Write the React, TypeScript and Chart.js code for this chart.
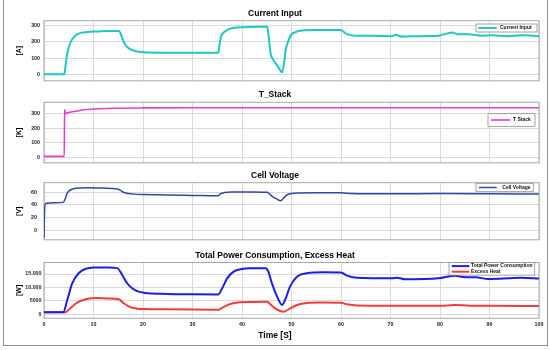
import React, { useEffect, useRef } from 'react';
import { Chart, registerables } from 'chart.js';

Chart.register(...registerables);

const FONT = '"Liberation Sans", Arial, Helvetica, sans-serif';
const GRID = '#dadada';
const FRAME = '#a8a8a8';

// ---- data (time [s], value) ----
const timeTicks = [0, 10, 20, 30, 40, 50, 60, 70, 80, 90, 100];

const currentInput: [number, number][] = [
  [0, 0], [4.1, 0], [4.3, 40], [4.6, 110], [5.0, 165], [5.4, 200], [6.0, 228], [6.8, 248], [8.1, 258],
  [10.1, 264], [12, 266], [15.2, 267], [15.6, 240], [16.0, 205], [16.6, 175], [17.2, 158], [18.2, 145],
  [20.2, 136], [25, 133], [30, 132], [35.2, 132], [35.5, 190], [35.8, 235], [36.5, 262], [37.5, 280],
  [38.5, 287], [40.4, 290], [43, 292], [45.1, 292], [45.4, 230], [45.8, 125], [46.3, 90], [46.8, 69],
  [47.5, 35], [48.1, 13], [48.5, 70], [48.8, 145], [49.3, 200], [49.8, 238], [50.8, 260], [52.2, 270],
  [55, 272], [59.9, 272], [61.2, 247], [62.9, 238], [66, 237], [70.3, 235], [71, 243], [72.3, 232],
  [76, 235], [79.7, 238], [82.4, 257], [83.7, 247], [85.8, 247], [88.4, 238], [90.5, 240], [93.8, 235],
  [96.5, 240], [100, 236],
];

const tStack: [number, number][] = [
  [0, 5], [4.1, 5], [4.15, 330], [4.35, 303], [5, 309], [6, 316], [6.8, 320], [8, 328], [10.1, 334],
  [14.8, 339], [20, 341], [30, 342], [100, 342],
];

const cellVoltage: [number, number][] = [
  [0, -12], [0.15, 38], [0.5, 42.5], [2, 43.5], [3.9, 44], [4.3, 50], [4.6, 57], [5.1, 62.5], [6, 65.5],
  [6.8, 66.5], [9, 67], [12, 66.5], [14.9, 65], [15.6, 62], [16.2, 59.5], [17, 58], [18.2, 57], [20, 56.5],
  [25, 55.5], [30, 55], [35.2, 54.5], [35.6, 57.5], [36.5, 59.5], [38.3, 60.3], [42, 60.5], [45.1, 60],
  [45.6, 57], [46.1, 53.5], [47, 49.5], [47.8, 46.5], [48.3, 50], [49.1, 56], [50.5, 58.5], [55, 59],
  [60, 59], [62, 58], [70, 57.5], [80, 57.8], [90, 57.5], [100, 57],
];

const totalPower: [number, number][] = [
  [0, 750], [3.9, 750], [4.7, 5300], [5.7, 11500], [7, 15300], [8.4, 16900], [10, 17400], [13, 17450],
  [14.8, 17200], [15.8, 14660], [16.8, 11560], [17.8, 9700], [19.1, 8430], [20.1, 8060], [24.9, 7570],
  [30, 7450], [35.2, 7400], [36, 9700], [37, 13400], [38.3, 15900], [40, 16900], [41.7, 17150],
  [44.8, 17200], [45.3, 16000], [46, 11800], [47.1, 6560], [48.1, 3500], [48.7, 5330], [49.7, 10300],
  [51.1, 14000], [53.1, 15300], [56.5, 15660], [60, 15600], [61.2, 14400], [63.2, 13650], [70.3, 13400],
  [71.3, 13650], [73, 13030], [79.7, 13400], [83, 14400], [85.1, 13800], [87.1, 13800], [89.8, 13150],
  [93.8, 13400], [96.5, 13650], [100, 13300],
];

const excessHeat: [number, number][] = [
  [0, 750], [4.3, 750], [5.3, 2240], [6.7, 4330], [8.4, 5600], [10.7, 6080], [13, 5900], [15.1, 5600],
  [16.1, 4100], [17.5, 2600], [18.8, 2100], [20.1, 2000], [25, 1850], [30, 1750], [35.2, 1700], [36, 2400],
  [37.6, 3840], [39.6, 4470], [42, 4600], [45, 4650], [46.4, 2600], [47.7, 1230], [48.4, 970], [49.4, 1860],
  [51.1, 3470], [53.1, 4200], [56, 4350], [60, 4300], [61.2, 3700], [63.2, 3250], [70, 3150], [80, 3150],
  [83, 3450], [86, 3200], [90, 3150], [100, 3100],
];

const currentTicks = [0, 100, 200, 300];
const stackTicks = [0, 100, 200, 300];
const voltageTicks = [0, 20, 40, 60];
const powerTicks = [0, 5000, 10000, 15000];
const powerTickLabels = ['0', '5000', '10,000', '15,000'];

// ---- panel layout ----
type Series = { label: string; points: [number, number][]; color: string; width: number };
type LegendSpec = {
  right: number; top: number; width: number; height: number; rows: number[];
  lineFrom: number; lineTo: number; textX: number;
};
type Panel = {
  key: string; title: string; yTitle: string; top: number; height: number;
  yMin: number; yMax: number; yTicks: number[]; yTickLabels: string[]; yTickPad: number;
  titlePad: { top: number; bottom: number }; xAxisHeight: number; showXTicks: boolean;
  series: Series[]; legend: LegendSpec; xTitle?: { text: string; x: number; y: number };
};

const panels: Panel[] = [
  {
    key: 'p1', title: 'Current Input', yTitle: '[A]', top: 0, height: 88,
    yMin: -40, yMax: 330, yTicks: currentTicks, yTickLabels: currentTicks.map(String), yTickPad: 4,
    titlePad: { top: 8.9, bottom: 1.6 }, xAxisHeight: 2, showXTicks: false,
    series: [{ label: 'Current Input', points: currentInput, color: '#1fc8c2', width: 2 }],
    legend: { right: 2, top: 3.3, width: 61, height: 8, rows: [4], lineFrom: 2.3, lineTo: 20.7, textX: 24 },
  },
  {
    key: 'p2', title: 'T_Stack', yTitle: '[K]', top: 88, height: 82,
    yMin: -40, yMax: 380, yTicks: stackTicks, yTickLabels: stackTicks.map(String), yTickPad: 4,
    titlePad: { top: 1.6, bottom: 2.5 }, xAxisHeight: 3, showXTicks: false,
    series: [{ label: 'T Stack', points: tStack, color: '#e03fcf', width: 1.6 }],
    legend: { right: 4, top: 11.4, width: 47, height: 12.6, rows: [6.3], lineFrom: 3, lineTo: 22, textX: 25 },
  },
  {
    key: 'p3', title: 'Cell Voltage', yTitle: '[V]', top: 170, height: 80,
    yMin: -15, yMax: 75, yTicks: voltageTicks, yTickLabels: voltageTicks.map(String), yTickPad: 7,
    titlePad: { top: 0.6, bottom: 1.9 }, xAxisHeight: 3.3, showXTicks: false,
    series: [{ label: 'Cell Voltage', points: cellVoltage, color: '#3346a3', width: 1.5 }],
    legend: { right: 5.7, top: 0.6, width: 57.3, height: 8.4, rows: [4.2], lineFrom: 3, lineTo: 20.7, textX: 26.3 },
  },
  {
    key: 'p4', title: 'Total Power Consumption, Excess Heat', yTitle: '[W]', top: 250, height: 95,
    yMin: -1500, yMax: 19300, yTicks: powerTicks, yTickLabels: powerTickLabels, yTickPad: 2.5,
    titlePad: { top: 0.4, bottom: 1.9 }, xAxisHeight: 26.7, showXTicks: true,
    series: [
      { label: 'Total Power Consumption', points: totalPower, color: '#1c1ce6', width: 2 },
      { label: 'Excess Heat', points: excessHeat, color: '#f23c3c', width: 2 },
    ],
    legend: { right: 4.3, top: 0, width: 85.7, height: 12.6, rows: [3.6, 9.2], lineFrom: 2.7, lineTo: 20.3, textX: 22 },
    xTitle: { text: 'Time [S]', x: 275, y: 86 },
  },
];

const plotFrame = {
  id: 'plotFrame',
  beforeDatasetsDraw(chart: any) {
    const { ctx, chartArea: a } = chart;
    ctx.save();
    ctx.strokeStyle = FRAME;
    ctx.lineWidth = 1;
    ctx.strokeRect(a.left, a.top, a.right - a.left, a.bottom - a.top);
    ctx.restore();
  },
};

function makeLegend(spec: LegendSpec) {
  return {
    id: 'boxLegend',
    afterDatasetsDraw(chart: any) {
      const { ctx, chartArea: a } = chart;
      const x = a.right - spec.right - spec.width;
      const y = a.top + spec.top;
      ctx.save();
      ctx.fillStyle = '#ffffff';
      ctx.fillRect(x, y, spec.width, spec.height);
      ctx.strokeStyle = '#8c8c8c';
      ctx.lineWidth = 0.8;
      ctx.strokeRect(x, y, spec.width, spec.height);
      ctx.font = `bold 5px ${FONT}`;
      ctx.textBaseline = 'middle';
      ctx.textAlign = 'left';
      chart.data.datasets.forEach((ds: any, i: number) => {
        const ry = y + spec.rows[i];
        ctx.strokeStyle = ds.borderColor;
        ctx.lineWidth = ds.borderWidth;
        ctx.beginPath();
        ctx.moveTo(x + spec.lineFrom, ry);
        ctx.lineTo(x + spec.lineTo, ry);
        ctx.stroke();
        ctx.fillStyle = '#111';
        ctx.fillText(ds.label, x + spec.textX, ry);
      });
      ctx.restore();
    },
  };
}

function makeXTitle(t?: { text: string; x: number; y: number }) {
  return {
    id: 'xTitle',
    afterDraw(chart: any) {
      if (!t) return;
      const { ctx } = chart;
      ctx.save();
      ctx.font = `bold 8.5px ${FONT}`;
      ctx.fillStyle = '#000';
      ctx.textAlign = 'center';
      ctx.textBaseline = 'middle';
      ctx.fillText(t.text, t.x, t.y);
      ctx.restore();
    },
  };
}

function PanelChart({ panel }: { panel: Panel }) {
  const ref = useRef<HTMLCanvasElement>(null);
  useEffect(() => {
    if (!ref.current) return;
    const tickFont = { family: FONT, size: 5.3, weight: 'bold' as const };
    const chart = new Chart(ref.current, {
      type: 'line',
      data: {
        datasets: panel.series.map((s) => ({
          label: s.label,
          data: s.points.map(([x, y]) => ({ x, y })),
          borderColor: s.color,
          backgroundColor: s.color,
          borderWidth: s.width,
          pointRadius: 0,
          fill: false,
          cubicInterpolationMode: 'monotone' as const,
        })),
      },
      options: {
        animation: false,
        responsive: false,
        events: [],
        layout: { padding: { left: 11, right: 11, top: 0, bottom: 0 } },
        plugins: {
          legend: { display: false },
          tooltip: { enabled: false },
          title: {
            display: true,
            text: panel.title,
            color: '#000',
            font: { family: FONT, size: 8.5, weight: 'bold' },
            padding: panel.titlePad,
          },
        },
        scales: {
          x: {
            type: 'linear',
            min: 0,
            max: 100,
            afterBuildTicks: (s: any) => { s.ticks = timeTicks.map((v) => ({ value: v })); },
            afterFit: (s: any) => { s.height = panel.xAxisHeight; },
            ticks: { display: panel.showXTicks, font: tickFont, color: '#222', padding: 3, maxRotation: 0, autoSkip: false },
            grid: { color: GRID, drawTicks: false },
            border: { display: false },
          },
          y: {
            type: 'linear',
            min: panel.yMin,
            max: panel.yMax,
            afterBuildTicks: (s: any) => { s.ticks = panel.yTicks.map((v) => ({ value: v })); },
            afterFit: (s: any) => { s.width = 33; },
            ticks: {
              font: tickFont,
              color: '#222',
              padding: panel.yTickPad,
              autoSkip: false,
              callback: (v: any) => {
                const i = panel.yTicks.indexOf(Number(v));
                return i >= 0 ? panel.yTickLabels[i] : '';
              },
            },
            grid: { color: GRID, drawTicks: false },
            border: { display: false },
            title: {
              display: true,
              text: panel.yTitle,
              color: '#000',
              font: { family: FONT, size: 7, weight: 'bold' },
              padding: { top: 4.1, bottom: 0 },
            },
          },
        },
      },
      plugins: [plotFrame, makeLegend(panel.legend), makeXTitle(panel.xTitle)],
    } as any);
    return () => chart.destroy();
  }, [panel]);
  return (
    <canvas
      ref={ref}
      width={550}
      height={panel.height}
      style={{ position: 'absolute', left: 0, top: panel.top, width: 550, height: panel.height, display: 'block' }}
    />
  );
}

export default function App() {
  return (
    <div style={{ position: 'absolute', left: 0, top: 0, width: 550, height: 350, background: '#ffffff', overflow: 'hidden' }}>
      <div
        style={{
          position: 'absolute', left: 3, top: -2, width: 545, height: 348,
          border: '1px solid #8f8f8f', boxSizing: 'border-box',
        }}
      />
      {panels.map((p) => (
        <PanelChart key={p.key} panel={p} />
      ))}
    </div>
  );
}
